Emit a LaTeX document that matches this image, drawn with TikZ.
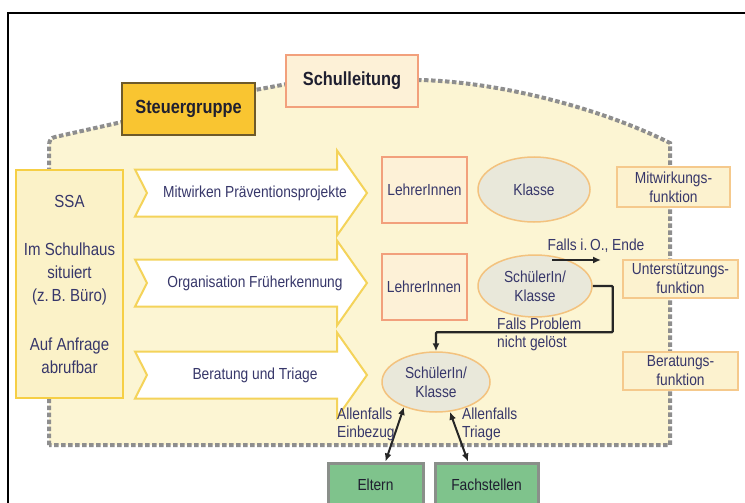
\documentclass[tikz,border=0pt]{standalone}
\usepackage{fontspec}
\setmainfont{Liberation Sans}[FakeStretch=0.86]
\usetikzlibrary{shapes.geometric,arrows.meta,calc}
\definecolor{housefill}{HTML}{FCF5D3}
\definecolor{dotgrey}{HTML}{8E8E8E}
\definecolor{salmon}{HTML}{F2A07C}
\definecolor{peach}{HTML}{FDF1D7}
\definecolor{gold}{HTML}{F9C531}
\definecolor{goldedge}{HTML}{6E5A2A}
\definecolor{yedge}{HTML}{F6CF45}
\definecolor{ssafill}{HTML}{FBF2C8}
\definecolor{chevedge}{HTML}{F4D35A}
\definecolor{ellfill}{HTML}{E9E8DA}
\definecolor{elledge}{HTML}{F3C27E}
\definecolor{rfill}{HTML}{FCF2CF}
\definecolor{redge}{HTML}{F5C98C}
\definecolor{green}{HTML}{7FC38C}
\definecolor{greenedge}{HTML}{8A8F8A}
\definecolor{txtc}{HTML}{37376A}
\definecolor{titlec}{HTML}{1F1F30}
\begin{document}
\begin{tikzpicture}[x=1pt,y=-1pt,
  txt/.style={font=\fontsize{16}{19}\selectfont, text=txtc, inner sep=0pt, align=center},
  ltxt/.style={font=\fontsize{16}{18}\selectfont, text=txtc, inner sep=0pt, align=left},
  title/.style={draw, font=\fontsize{19}{22}\selectfont\bfseries, text=titlec, inner sep=0pt},
  lbox/.style={draw=salmon, fill=peach, line width=2pt, minimum width=85pt, minimum height=66pt, txt},
  ell/.style={ellipse, draw=elledge, fill=ellfill, line width=1.5pt, txt},
  rbox/.style={draw=redge, fill=rfill, line width=1.5pt, minimum width=115pt, minimum height=38pt, txt},
  gbox/.style={draw=greenedge, fill=green, line width=3pt, minimum height=44pt, txt, text=titlec},
  chev/.style={draw=chevedge, fill=white, line width=2pt},
  dotline/.style={draw=dotgrey, line width=4pt, dash pattern=on 4.5pt off 2.5pt},
  arr/.style={line width=2.2pt, draw=black!85, -{Latex[length=8pt,width=7pt]}},
  darr/.style={line width=2pt, draw=black!85, {Latex[length=8pt,width=7pt]}-{Latex[length=8pt,width=7pt]}}
]
\useasboundingbox (0,0) rectangle (745,503);
\clip (0,0) rectangle (745,503);
\fill[white] (0,0) rectangle (745,503);
% frame
\draw[line width=2.5pt, black] (8,530) -- (8,13) -- (760,13);
% house
\path[fill=housefill] (49,445) -- (49,146) .. controls (49,140) and (51,138) .. (55,137) -- (122,122) -- (255,90) -- (287,84) -- (420,80) .. controls (500,82) and (600,108) .. (670,143) -- (670,445) -- cycle;
\path[dotline] (49,445) -- (49,146) .. controls (49,140) and (51,138) .. (55,137) -- (122,122) -- (255,90) -- (287,84) -- (420,80) .. controls (500,82) and (600,108) .. (670,143) -- (670,445) -- cycle;
% top boxes
\node[title, draw=salmon, fill=peach, line width=2pt, minimum width=132pt, minimum height=52pt] (sl) at (352,81) {Schulleitung};
\node[title, draw=goldedge, fill=gold, line width=1.5pt, minimum width=133pt, minimum height=52pt] (sg) at (188.5,109) {Steuergruppe};
% SSA
\node[draw=yedge, fill=ssafill, line width=2.5pt, minimum width=107pt, minimum height=228pt, inner sep=0pt, font=\fontsize{17.5}{23}\selectfont, text=txtc, align=center] (ssa) at (69.5,284)
  {SSA\\[25pt]Im Schulhaus\\situiert\\(z.\,B. Büro)\\[26pt]Auf Anfrage\\abrufbar};
% chevrons
\path[chev] (135,169.5) -- (337,169.5) -- (337,150.5) -- (367,193) -- (337,235.5) -- (337,216.5) -- (135,216.5) -- (147,193) -- cycle;
\path[chev] (135,259.5) -- (337,259.5) -- (337,240.5) -- (367,283) -- (337,325.5) -- (337,306.5) -- (135,306.5) -- (147,283) -- cycle;
\path[chev] (135,351.5) -- (337,351.5) -- (337,332.5) -- (367,375) -- (337,417.5) -- (337,398.5) -- (135,398.5) -- (147,375) -- cycle;
\node[txt] (c1) at (255,193) {Mitwirken Präventionsprojekte};
\node[txt] (c2) at (255,283) {Organisation Früherkennung};
\node[txt] (c3) at (255,375) {Beratung und Triage};
% Lehrer boxes
\node[lbox] (l1) at (424.5,189.5) {LehrerInnen};
\node[lbox] (l2) at (424,286.5) {LehrerInnen};
% ellipses
\node[ell, minimum width=112pt, minimum height=65pt] (k) at (534,189.5) {Klasse};
\node[ell, minimum width=114pt, minimum height=62pt] (s1) at (535,286) {SchülerIn/\\Klasse};
\node[ell, minimum width=108pt, minimum height=60pt] (s2) at (436,382) {SchülerIn/\\Klasse};
% right boxes
\node[rbox, minimum width=113pt, minimum height=40pt] (r1) at (673.5,187) {Mitwirkungs-\\funktion};
\node[rbox] (r2) at (680.5,279) {Unterstützungs-\\funktion};
\node[rbox] (r3) at (680.5,371) {Beratungs-\\funktion};
% green boxes
\node[gbox, minimum width=95pt] (el) at (375.5,485) {Eltern};
\node[gbox, minimum width=103pt] (fs) at (486.5,485) {Fachstellen};
% connectors
\coordinate (fa) at (552,260);
\coordinate (fb) at (601,260);
\draw[line width=1.6pt, draw=black!85, -{Latex[length=8pt,width=7pt]}] (fa) -- (fb);
\node[txt] (fl) at (596,246) {Falls i.\,O., Ende};
\draw[arr, rounded corners=1pt] (s1.east) -- ++(20,0) |- ($(s2.north)+(0,-19)$) -- (s2.north);
\node[ltxt, anchor=north west] (fp) at (497,318) {Falls Problem\\nicht gelöst};
\draw[darr] (s2.218) -- ([xshift=10pt]el.north);
\draw[darr] (s2.295) -- ([xshift=-18.5pt]fs.north);
\node[ltxt, anchor=north west] (ae) at (337,408) {Allenfalls\\Einbezug};
\node[ltxt, anchor=north west] (at) at (462,408) {Allenfalls\\Triage};
\end{tikzpicture}
\end{document}
